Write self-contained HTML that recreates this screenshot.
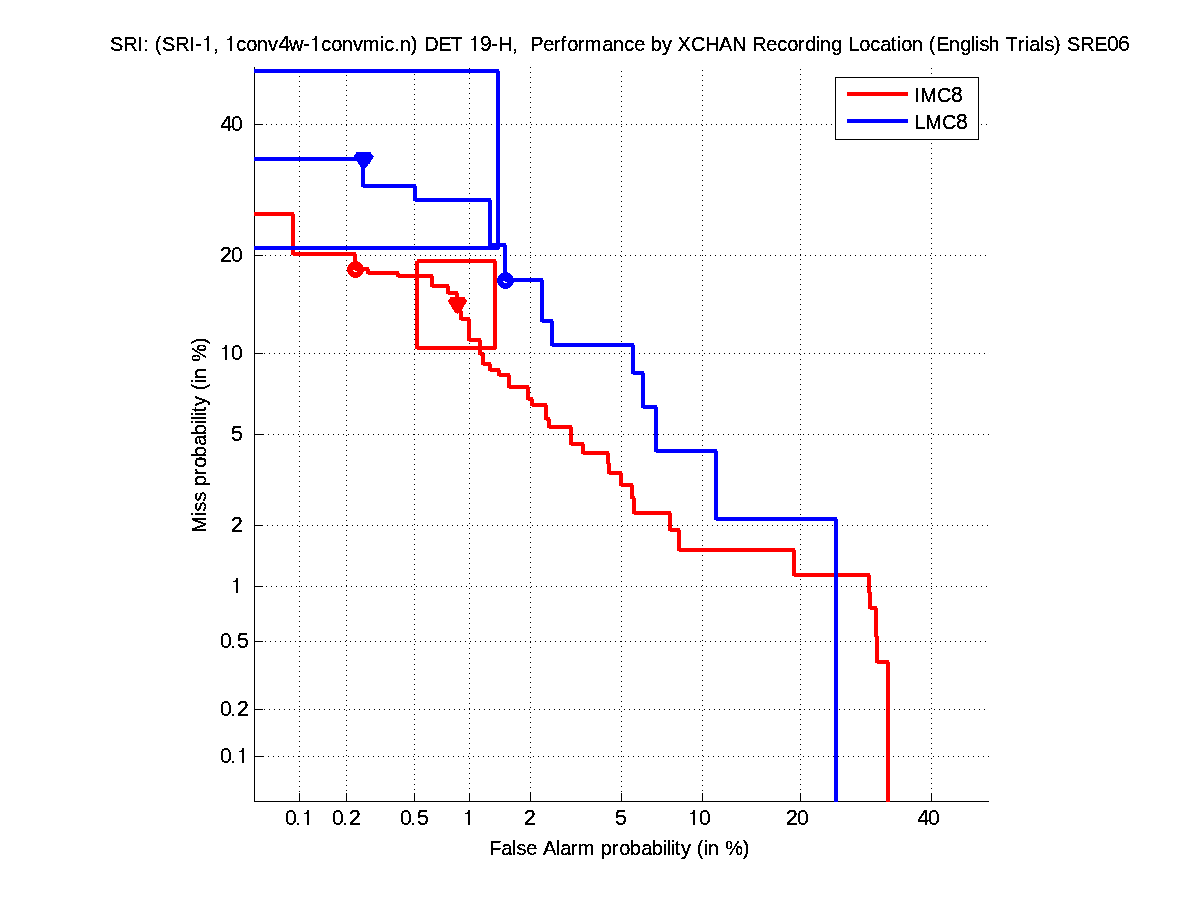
<!DOCTYPE html>
<html><head><meta charset="utf-8"><title>DET plot</title>
<style>html,body{margin:0;padding:0;background:#fff;width:1201px;height:900px;overflow:hidden;}</style>
</head><body>
<svg width="1201" height="900" viewBox="0 0 1201 900" style="display:block"><defs><filter id="k" filterUnits="userSpaceOnUse" x="0" y="0" width="1201" height="900"><feComponentTransfer><feFuncA type="discrete" tableValues="0 1 1"/></feComponentTransfer></filter><clipPath id="c"><rect x="254" y="67" width="735" height="735"/></clipPath></defs>
<g stroke="#000" stroke-width="1" stroke-dasharray="1 4" shape-rendering="crispEdges"><line x1="299.5" y1="71" x2="299.5" y2="801" /><line x1="346.5" y1="70" x2="346.5" y2="801" /><line x1="414.5" y1="69" x2="414.5" y2="801" /><line x1="469.5" y1="68" x2="469.5" y2="801" /><line x1="530.5" y1="67" x2="530.5" y2="801" /><line x1="621.5" y1="71" x2="621.5" y2="801" /><line x1="702.5" y1="70" x2="702.5" y2="801" /><line x1="800.5" y1="69" x2="800.5" y2="801" /><line x1="931.5" y1="68" x2="931.5" y2="801" /><line x1="256" y1="124.5" x2="989" y2="124.5" /><line x1="255" y1="255.5" x2="989" y2="255.5" /><line x1="259" y1="353.5" x2="989" y2="353.5" /><line x1="258" y1="434.5" x2="989" y2="434.5" /><line x1="257" y1="525.5" x2="989" y2="525.5" /><line x1="256" y1="586.5" x2="989" y2="586.5" /><line x1="255" y1="641.5" x2="989" y2="641.5" /><line x1="259" y1="709.5" x2="989" y2="709.5" /><line x1="258" y1="756.5" x2="989" y2="756.5" /></g>
<g stroke="#000" stroke-width="1" shape-rendering="crispEdges"><line x1="254.5" y1="67" x2="254.5" y2="802" /><line x1="254" y1="801.5" x2="989" y2="801.5" /><line x1="299.5" y1="801" x2="299.5" y2="793" /><line x1="346.5" y1="801" x2="346.5" y2="793" /><line x1="414.5" y1="801" x2="414.5" y2="793" /><line x1="469.5" y1="801" x2="469.5" y2="793" /><line x1="530.5" y1="801" x2="530.5" y2="793" /><line x1="621.5" y1="801" x2="621.5" y2="793" /><line x1="702.5" y1="801" x2="702.5" y2="793" /><line x1="800.5" y1="801" x2="800.5" y2="793" /><line x1="931.5" y1="801" x2="931.5" y2="793" /><line x1="255" y1="124.5" x2="263" y2="124.5" /><line x1="255" y1="255.5" x2="263" y2="255.5" /><line x1="255" y1="353.5" x2="263" y2="353.5" /><line x1="255" y1="434.5" x2="263" y2="434.5" /><line x1="255" y1="525.5" x2="263" y2="525.5" /><line x1="255" y1="586.5" x2="263" y2="586.5" /><line x1="255" y1="641.5" x2="263" y2="641.5" /><line x1="255" y1="709.5" x2="263" y2="709.5" /><line x1="255" y1="756.5" x2="263" y2="756.5" /></g>
<g clip-path="url(#c)" shape-rendering="crispEdges">
<g fill="#ff0000"><rect x="417" y="259" width="79" height="4"/><rect x="493" y="261" width="4" height="88"/><rect x="417" y="346" width="79" height="4"/><rect x="415" y="261" width="4" height="88"/></g>
<g fill="#ff0000"><rect x="250" y="212" width="44" height="4"/><rect x="291" y="214" width="4" height="41"/><rect x="293" y="252" width="63" height="4"/><rect x="353" y="254" width="4" height="16"/><rect x="355" y="267" width="14" height="4"/><rect x="366" y="269" width="4" height="5"/><rect x="368" y="271" width="31" height="4"/><rect x="396" y="273" width="4" height="4"/><rect x="398" y="274" width="35" height="4"/><rect x="430" y="276" width="4" height="11"/><rect x="432" y="284" width="17" height="4"/><rect x="446" y="286" width="4" height="8"/><rect x="448" y="291" width="10" height="4"/><rect x="455" y="293" width="4" height="19"/><rect x="457" y="309" width="5" height="4"/><rect x="459" y="311" width="4" height="9"/><rect x="461" y="317" width="9" height="4"/><rect x="467" y="319" width="4" height="22"/><rect x="469" y="338" width="12" height="4"/><rect x="478" y="340" width="4" height="15"/><rect x="480" y="352" width="4" height="4"/><rect x="481" y="354" width="4" height="11"/><rect x="483" y="362" width="8" height="4"/><rect x="488" y="364" width="4" height="7"/><rect x="490" y="368" width="10" height="4"/><rect x="497" y="370" width="4" height="6"/><rect x="499" y="373" width="11" height="4"/><rect x="507" y="375" width="4" height="13"/><rect x="509" y="385" width="20" height="4"/><rect x="526" y="387" width="4" height="13"/><rect x="528" y="397" width="5" height="4"/><rect x="530" y="399" width="4" height="7"/><rect x="532" y="403" width="15" height="4"/><rect x="544" y="405" width="4" height="15"/><rect x="546" y="417" width="4" height="4"/><rect x="547" y="419" width="4" height="9"/><rect x="549" y="425" width="23" height="4"/><rect x="569" y="427" width="4" height="18"/><rect x="571" y="442" width="13" height="4"/><rect x="581" y="444" width="4" height="10"/><rect x="583" y="451" width="26" height="4"/><rect x="606" y="453" width="4" height="11"/><rect x="608" y="461" width="2" height="4"/><rect x="607" y="463" width="4" height="11"/><rect x="609" y="471" width="13" height="4"/><rect x="619" y="473" width="4" height="13"/><rect x="621" y="483" width="12" height="4"/><rect x="630" y="485" width="4" height="14"/><rect x="632" y="496" width="3" height="4"/><rect x="632" y="498" width="4" height="16"/><rect x="634" y="511" width="37" height="4"/><rect x="668" y="513" width="4" height="18"/><rect x="670" y="528" width="10" height="4"/><rect x="677" y="530" width="4" height="21"/><rect x="679" y="548" width="116" height="4"/><rect x="792" y="550" width="4" height="26"/><rect x="794" y="573" width="76" height="4"/><rect x="867" y="575" width="4" height="18"/><rect x="869" y="590" width="2" height="4"/><rect x="868" y="592" width="4" height="17"/><rect x="870" y="606" width="7" height="4"/><rect x="874" y="608" width="4" height="29"/><rect x="876" y="634" width="2" height="4"/><rect x="875" y="636" width="4" height="27"/><rect x="877" y="660" width="12" height="4"/><rect x="886" y="662" width="4" height="149"/></g>
<g fill="#ff0000"><rect x="450" y="297" width="15" height="1"/><rect x="450" y="298" width="15" height="1"/><rect x="449" y="299" width="17" height="1"/><rect x="448" y="300" width="19" height="1"/><rect x="448" y="301" width="19" height="1"/><rect x="449" y="302" width="17" height="1"/><rect x="449" y="303" width="17" height="1"/><rect x="450" y="304" width="15" height="1"/><rect x="451" y="305" width="13" height="1"/><rect x="451" y="306" width="13" height="1"/><rect x="452" y="307" width="11" height="1"/><rect x="452" y="308" width="11" height="1"/><rect x="453" y="309" width="9" height="1"/><rect x="454" y="310" width="8" height="1"/><rect x="454" y="311" width="7" height="1"/><rect x="455" y="312" width="5" height="1"/><rect x="457" y="313" width="1" height="1"/></g>
<g fill="#ff0000"><rect x="353" y="261" width="5" height="1"/><rect x="351" y="262" width="9" height="1"/><rect x="350" y="263" width="11" height="1"/><rect x="349" y="264" width="13" height="1"/><rect x="348" y="265" width="15" height="1"/><rect x="348" y="266" width="15" height="1"/><rect x="347" y="267" width="17" height="1"/><rect x="347" y="268" width="17" height="1"/><rect x="347" y="269" width="17" height="1"/><rect x="347" y="270" width="17" height="1"/><rect x="347" y="271" width="17" height="1"/><rect x="348" y="272" width="15" height="1"/><rect x="348" y="273" width="15" height="1"/><rect x="349" y="274" width="13" height="1"/><rect x="350" y="275" width="11" height="1"/><rect x="351" y="276" width="9" height="1"/><rect x="353" y="277" width="5" height="1"/></g><rect x="353" y="270" width="2" height="1" fill="#fff"/><rect x="354" y="271" width="3" height="1" fill="#fff"/>
<g fill="#0000ff"><rect x="250" y="69" width="249" height="4"/><rect x="496" y="71" width="4" height="178"/><rect x="250" y="246" width="249" height="4"/></g>
<g fill="#0000ff"><rect x="250" y="157" width="114" height="4"/><rect x="361" y="159" width="4" height="28"/><rect x="363" y="184" width="53" height="4"/><rect x="413" y="186" width="4" height="15"/><rect x="415" y="198" width="76" height="4"/><rect x="488" y="200" width="4" height="46"/><rect x="490" y="243" width="16" height="4"/><rect x="503" y="245" width="4" height="36"/><rect x="505" y="278" width="38" height="4"/><rect x="540" y="280" width="4" height="42"/><rect x="542" y="319" width="11" height="4"/><rect x="550" y="321" width="4" height="25"/><rect x="552" y="343" width="82" height="4"/><rect x="631" y="345" width="4" height="29"/><rect x="633" y="371" width="11" height="4"/><rect x="641" y="373" width="4" height="35"/><rect x="643" y="405" width="14" height="4"/><rect x="654" y="407" width="4" height="45"/><rect x="656" y="449" width="61" height="4"/><rect x="714" y="451" width="4" height="69"/><rect x="716" y="517" width="121" height="4"/><rect x="834" y="519" width="4" height="292"/></g>
<g fill="#0000ff"><rect x="356" y="152" width="15" height="1"/><rect x="356" y="153" width="15" height="1"/><rect x="355" y="154" width="17" height="1"/><rect x="354" y="155" width="19" height="1"/><rect x="354" y="156" width="20" height="1"/><rect x="355" y="157" width="18" height="1"/><rect x="355" y="158" width="18" height="1"/><rect x="356" y="159" width="16" height="1"/><rect x="357" y="160" width="14" height="1"/><rect x="357" y="161" width="14" height="1"/><rect x="358" y="162" width="12" height="1"/><rect x="358" y="163" width="12" height="1"/><rect x="359" y="164" width="9" height="1"/><rect x="360" y="165" width="8" height="1"/><rect x="360" y="166" width="7" height="1"/><rect x="361" y="167" width="5" height="1"/><rect x="363" y="168" width="1" height="1"/></g>
<g fill="#0000ff"><rect x="503" y="272" width="5" height="1"/><rect x="501" y="273" width="9" height="1"/><rect x="500" y="274" width="11" height="1"/><rect x="499" y="275" width="13" height="1"/><rect x="498" y="276" width="15" height="1"/><rect x="498" y="277" width="15" height="1"/><rect x="497" y="278" width="17" height="1"/><rect x="497" y="279" width="17" height="1"/><rect x="497" y="280" width="17" height="1"/><rect x="497" y="281" width="17" height="1"/><rect x="497" y="282" width="17" height="1"/><rect x="498" y="283" width="15" height="1"/><rect x="498" y="284" width="15" height="1"/><rect x="499" y="285" width="13" height="1"/><rect x="500" y="286" width="11" height="1"/><rect x="501" y="287" width="9" height="1"/><rect x="503" y="288" width="5" height="1"/></g><rect x="503" y="281" width="2" height="1" fill="#fff"/><rect x="504" y="282" width="3" height="1" fill="#fff"/>
</g>
<rect x="835.5" y="77.5" width="143" height="62" fill="#fff" stroke="#000" stroke-width="1" shape-rendering="crispEdges"/>
<line x1="847" y1="94" x2="908" y2="94" stroke="#ff0000" stroke-width="4"/>
<line x1="847" y1="121" x2="908" y2="121" stroke="#0000ff" stroke-width="4"/>
<g fill="#000" shape-rendering="crispEdges"><rect x="297" y="823" width="2" height="2"/><rect x="307" y="810" width="2" height="15"/><rect x="306" y="812" width="1" height="1"/><rect x="304" y="813" width="3" height="1"/><rect x="344" y="823" width="2" height="2"/><rect x="412" y="823" width="2" height="2"/><rect x="468" y="810" width="2" height="15"/><rect x="467" y="812" width="1" height="1"/><rect x="465" y="813" width="3" height="1"/><rect x="693" y="810" width="2" height="15"/><rect x="692" y="812" width="1" height="1"/><rect x="690" y="813" width="3" height="1"/><rect x="225" y="345" width="2" height="15"/><rect x="224" y="347" width="1" height="1"/><rect x="222" y="348" width="3" height="1"/><rect x="236" y="578" width="2" height="15"/><rect x="235" y="580" width="1" height="1"/><rect x="233" y="581" width="3" height="1"/><rect x="232" y="646" width="2" height="2"/><rect x="232" y="714" width="2" height="2"/><rect x="232" y="761" width="2" height="2"/><rect x="242" y="748" width="2" height="15"/><rect x="241" y="750" width="1" height="1"/><rect x="239" y="751" width="3" height="1"/><rect x="207" y="36" width="2" height="15"/><rect x="206" y="38" width="1" height="1"/><rect x="204" y="39" width="3" height="1"/><rect x="230" y="36" width="2" height="15"/><rect x="229" y="38" width="1" height="1"/><rect x="227" y="39" width="3" height="1"/><rect x="315" y="36" width="2" height="15"/><rect x="314" y="38" width="1" height="1"/><rect x="312" y="39" width="3" height="1"/><rect x="474" y="36" width="2" height="15"/><rect x="473" y="38" width="1" height="1"/><rect x="471" y="39" width="3" height="1"/></g>
<g filter="url(#k)" font-family='"Liberation Sans", sans-serif' font-size="20" fill="#000" style="font-kerning:none"><text transform="translate(285,825) scale(1.06,1.07)">0</text><text transform="translate(332,825) scale(1.06,1.07)">0</text><text transform="translate(349,825) scale(1.06,1.07)">2</text><text transform="translate(400,825) scale(1.06,1.07)">0</text><text transform="translate(417,825) scale(1.06,1.07)">5</text><text transform="translate(524,825) scale(1.06,1.07)">2</text><text transform="translate(615,825) scale(1.06,1.07)">5</text><text transform="translate(699,825) scale(1.06,1.07)">0</text><text transform="translate(786,825) scale(1.06,1.07)">2</text><text transform="translate(797,825) scale(1.06,1.07)">0</text><text transform="translate(917.5,825) scale(1.06,1.07)">4</text><text transform="translate(928,825) scale(1.06,1.07)">0</text><text transform="translate(220.5,131) scale(1.06,1.07)">4</text><text transform="translate(231,131) scale(1.06,1.07)">0</text><text transform="translate(220,262) scale(1.06,1.07)">2</text><text transform="translate(231,262) scale(1.06,1.07)">0</text><text transform="translate(231,360) scale(1.06,1.07)">0</text><text transform="translate(231,441) scale(1.06,1.07)">5</text><text transform="translate(231,532) scale(1.06,1.07)">2</text><text transform="translate(220,648) scale(1.06,1.07)">0</text><text transform="translate(237,648) scale(1.06,1.07)">5</text><text transform="translate(220,716) scale(1.06,1.07)">0</text><text transform="translate(237,716) scale(1.06,1.07)">2</text><text transform="translate(220,763) scale(1.06,1.07)">0</text><text transform="translate(278.5,51) scale(1.06,1.07)">4</text><text transform="translate(480,51) scale(1.06,1.07)">9</text><text transform="translate(1107,51) scale(1.06,1.07)">0</text><text transform="translate(1118,51) scale(1.06,1.07)">6</text><text transform="translate(0,51) scale(1,1.048)" x="110.09 123.36 137.15 143.17 154.76 162.09 175.36 189.15 195.11 213.2 236.15 246.16 256.67 267.93 289.03 303.11 321.15 331.16 341.67 352.93 362.67 379.66 384.15 394.17 399.67 410.88 424.36 438.36 450.55 491.11 498.36 512.2 530.36 543.15 553.67 560.72 567.16 577.67 584.67 602.15 612.67 624.15 634.15 650.71 661.95 677.55 690.98 705.36 718.96 732.36 752.36 766.15 777.15 787.16 797.67 805.16 815.66 819.67 831.16 848.36 859.16 870.15 880.15 890.7 896.66 901.16 911.67 928.76 936.36 948.67 960.16 970.65 974.66 979.44 988.61 1005.55 1017.67 1024.66 1029.15 1039.65 1044.44 1053.88 1067.09 1080.36 1094.36" y="0">SRI:(SRI-,convw-convmic.n)DET-H,PerformancebyXCHANRecordingLocation(EnglishTrials)SRE</text><text transform="translate(0,855) scale(1,1.048)" x="489.36 501.15 511.65 516.44 526.15 542.96 555.65 560.15 570.67 577.67 600.71 611.67 619.16 629.71 641.15 651.71 662.66 666.65 670.66 674.7 680.95 696.76 703.66 707.67 725.29 742.88" y="0">FalseAlarmprobability(in%)</text><text transform="translate(951,102) scale(1.06,1.07)">8</text><text transform="translate(0,102) scale(1,1.048)" x="914.15 920.36 936.98" y="0">IMC</text><text transform="translate(956,129) scale(1.06,1.07)">8</text><text transform="translate(0,129) scale(1,1.048)" x="914.36 925.36 941.98" y="0">LMC</text><g transform="translate(206,533) rotate(-90)"><text transform="translate(0,0) scale(1,1.048)" x="0.36 16.66 21.44 31.44 46.71 57.67 65.16 75.71 87.15 97.71 108.66 112.65 116.66 120.7 126.95 142.76 149.66 153.67 171.29 188.88" y="0">Missprobability(in%)</text></g></g></svg>
</body></html>
